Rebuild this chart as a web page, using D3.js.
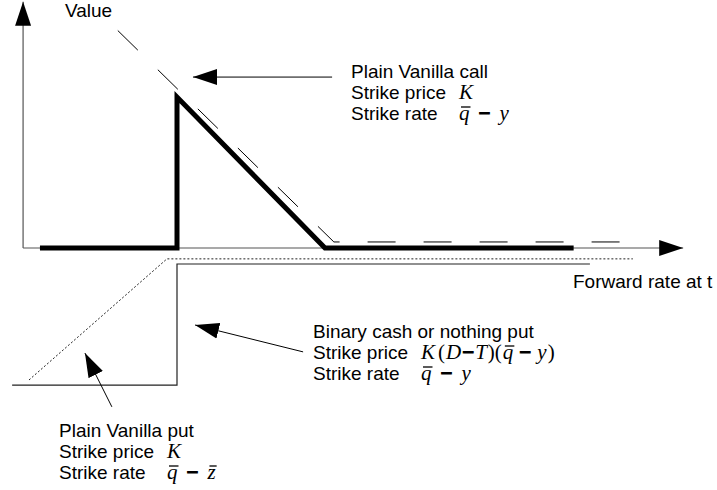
<!DOCTYPE html>
<html>
<head>
<meta charset="utf-8">
<script src="https://cdn.jsdelivr.net/npm/d3@7"></script>
<style>
  html, body { margin: 0; padding: 0; background: #fff; }
  svg { display: block; }
  text { font-family: "Liberation Sans", Arial, sans-serif; font-size: 19px; fill: #000; }
  text.mi { font-family: "Liberation Serif", "Times New Roman", serif; font-style: italic; font-size: 21px; }
  text.mu { font-family: "Liberation Serif", "Times New Roman", serif; font-size: 21px; }
  text.mo { font-family: "Liberation Serif", "Times New Roman", serif; font-weight: bold; font-size: 21px;
            stroke: #000; stroke-width: 1.1; }
</style>
</head>
<body>
<svg width="717" height="490"></svg>
<script>
// payoffs, x = forward rate, y = value
const combined = [[0.37, 0], [5, 0], [5, 5], [10, 0], [18.4, 0]];
const vanillaCall = [[3.0, 7.2], [10.3, 0.2], [20.4, 0.2]];
const vanillaPut = [[0, -4.37], [4.66, -0.36], [20.4, -0.36]];
const binaryPut = [[-0.57, -4.54], [5, -4.54], [5, -0.53], [18.95, -0.53]];

const xExtent = [-0.2, 22.1];
const yTop = 8.15;
const axisTitles = ["Value", "Forward rate at t"];

// pointer arrows: [tail, tip]
const pointers = [
  [[10.24, 5.66], [5.54, 5.66]],
  [[9.26, -3.44], [5.61, -2.55]],
  [[2.80, -5.26], [1.89, -3.48]]
];

// text blocks; math tokens are [text, kind, gap before, overbar]
const qMinusY = [["q", "i", 0, 1], ["\u2212", "o", 9], ["y", "i", 9]];
const notes = [
  { x: 351, y: 78, lines: ["Plain Vanilla call", "Strike price", "Strike rate"],
    math: [null, [["K", "i", 0]], qMinusY] },
  { x: 313, y: 338, lines: ["Binary cash or nothing put", "Strike price", "Strike rate"],
    math: [null,
      [["K", "i", 0], ["(", "u", 3], ["D", "i", 1], ["\u2212", "o", 1], ["T", "i", 1],
       [")", "u", 1], ["(", "u", 0], ["q", "i", 1, 1], ["\u2212", "o", 6], ["y", "i", 6], [")", "u", 1]],
      qMinusY] },
  { x: 59, y: 437, lines: ["Plain Vanilla put", "Strike price", "Strike rate"],
    math: [null, [["K", "i", 0]], [["q", "i", 0, 1], ["\u2212", "o", 9], ["z", "i", 9, 1]]] }
];

const svg = d3.select("svg");

const x = d3.scaleLinear().domain([0, 10]).range([29, 325]);
const y = d3.scaleLinear().domain([0, 5]).range([248, 97]);

const defs = svg.append("defs");
defs.append("marker")
  .attr("id", "head")
  .attr("markerUnits", "userSpaceOnUse")
  .attr("viewBox", "0 -9 26 18")
  .attr("refX", 24).attr("refY", 0)
  .attr("markerWidth", 26).attr("markerHeight", 18)
  .attr("orient", "auto")
  .append("path")
  .attr("d", "M0,-8L24,0L0,8Z")
  .attr("fill", "#000");

const line = d3.line().x(d => x(d[0])).y(d => y(d[1]));

// axes
svg.append("path")
  .attr("d", line([[xExtent[0], 0], [xExtent[1], 0]]))
  .attr("stroke", "#555").attr("stroke-width", 1.2).attr("fill", "none")
  .attr("marker-end", "url(#head)");
svg.append("path")
  .attr("d", line([[xExtent[0], 0], [xExtent[0], yTop]]))
  .attr("stroke", "#555").attr("stroke-width", 1.2).attr("fill", "none")
  .attr("marker-end", "url(#head)");

svg.append("text").attr("x", 65).attr("y", 17).text(axisTitles[0]);
svg.append("text").attr("x", 573).attr("y", 288).text(axisTitles[1]);

// payoff lines
svg.append("path")
  .attr("d", line(binaryPut))
  .attr("stroke", "#222").attr("stroke-width", 1.2).attr("fill", "none");
svg.append("path")
  .attr("d", line(vanillaPut))
  .attr("stroke", "#222").attr("stroke-width", 1).attr("stroke-dasharray", "2,2").attr("fill", "none");
svg.append("path")
  .attr("d", line(vanillaCall))
  .attr("stroke", "#000").attr("stroke-width", 1).attr("stroke-dasharray", "28,28").attr("fill", "none");
svg.append("path")
  .attr("d", line(combined))
  .attr("stroke", "#000").attr("stroke-width", 5).attr("stroke-linejoin", "miter").attr("fill", "none");

// pointers
svg.selectAll(".pointer")
  .data(pointers)
  .enter().append("path")
  .attr("class", "pointer")
  .attr("d", d => line(d))
  .attr("stroke", "#000").attr("stroke-width", 1).attr("fill", "none")
  .attr("marker-end", "url(#head)");

function drawMath(g, x0, y0, toks) {
  let cx = x0;
  toks.forEach(([t, kind, gap, bar]) => {
    cx += gap || 0;
    const el = g.append("text").attr("class", "m" + kind).attr("x", cx).attr("y", y0).text(t);
    const w = el.node().getComputedTextLength();
    if (bar) {
      g.append("line")
        .attr("x1", cx + 2).attr("x2", cx + w + 1)
        .attr("y1", y0 - 13).attr("y2", y0 - 13)
        .attr("stroke", "#000").attr("stroke-width", 1.3);
    }
    cx += w;
  });
}

notes.forEach(n => {
  const g = svg.append("g");
  n.lines.forEach((s, i) => {
    g.append("text").attr("x", n.x).attr("y", n.y + i * 21).text(s);
    if (n.math[i]) drawMath(g, n.x + 108, n.y + i * 21, n.math[i]);
  });
});
</script>
</body>
</html>
